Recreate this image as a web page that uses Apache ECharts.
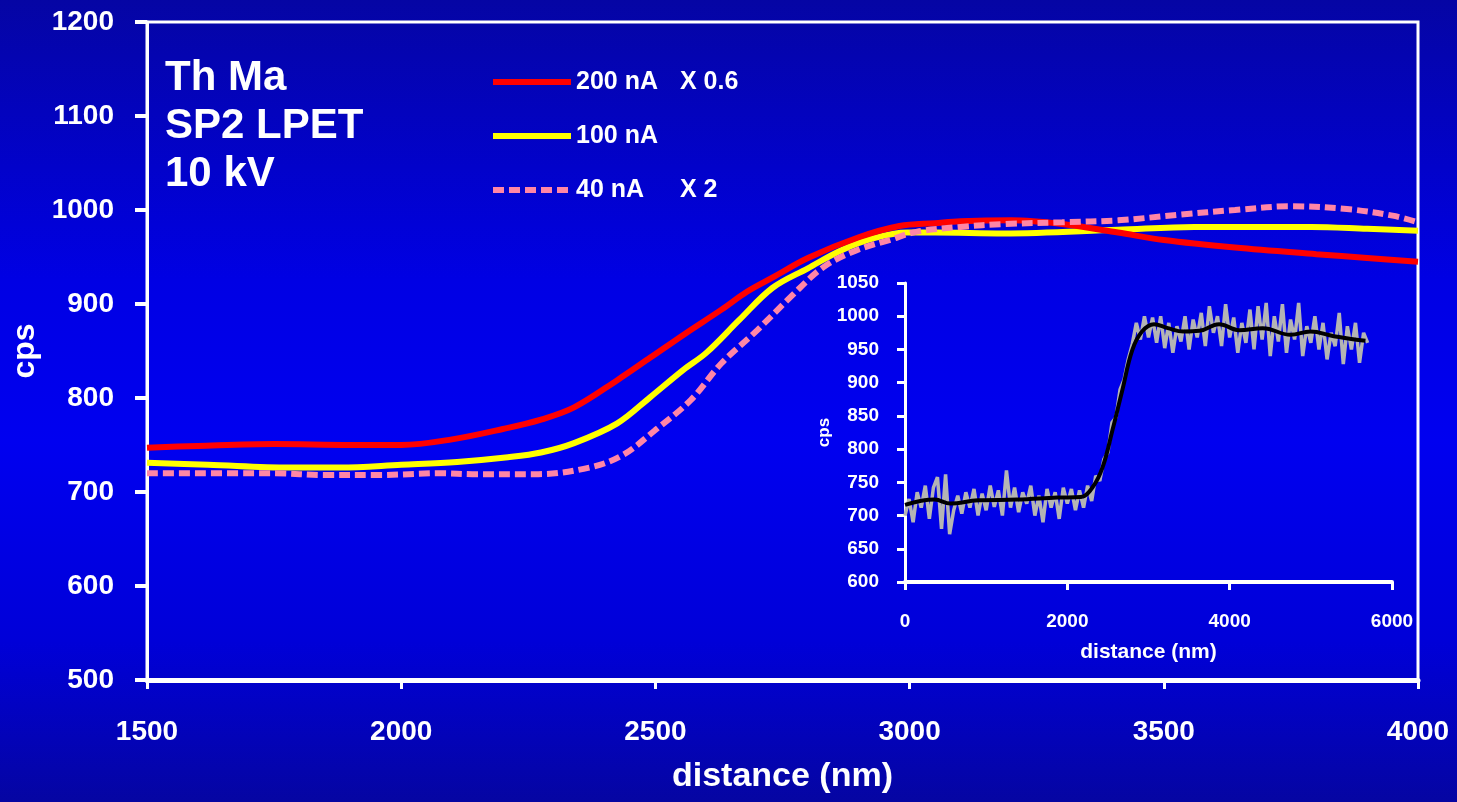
<!DOCTYPE html>
<html>
<head>
<meta charset="utf-8">
<script src="https://cdn.jsdelivr.net/npm/echarts@6/dist/echarts.min.js"></script>
<style>
html,body{margin:0;padding:0;width:1457px;height:802px;overflow:hidden;}
#chart{width:1457px;height:802px;}
</style>
</head>
<body>
<div id="chart"></div>
<script>
// ---- main chart data (distance nm, cps) ----
const redX = [1500,1600,1750,1900,2000,2100,2200,2275,2340,2425,2490,2560,2630,2680,2730,2800,2900,2980,3050,3100,3200,3300,3410,3500,3640,3800,3900,4000];
const redY = [747,749,751,750,750,756,767,777,790,819,843,869,894,913,928,949,971,983,986,988,989,985,976,968,960,953,949,945];

const yellowX = [1500,1620,1780,1880,2000,2110,2210,2275,2340,2425,2490,2555,2600,2665,2730,2800,2865,2930,2995,3050,3185,3410,3560,3790,3900,4000];
const yellowY = [731,729,726,726,729,732,737,742,752,773,801,830,848,883,917,938,957,970,976,976,975,979,982,982,980,978];

const pinkX = [1500,1750,1850,1950,2080,2140,2270,2370,2435,2500,2570,2630,2700,2765,2830,2895,2960,3015,3100,3185,3300,3410,3530,3640,3750,3860,3950,4000];
const pinkY = [720,720,718,718,720,719,719,726,739,766,798,837,872,907,939,957,968,977,982,985,987,989,995,1000,1004,1001,994,987];

const seriesNames = ['200 nA', '100 nA', '40 nA'];
const seriesFactors = ['X 0.6', '', 'X 2'];

const mainXTicks = {min: 1500, max: 4000, interval: 500};
const mainYTicks = {min: 500, max: 1200, interval: 100};

// ---- inset data ----
const insetRawStart = 0, insetRawStep = 50;
const insetRawY = [700,725,690,735,712,745,695,742,758,680,762,672,708,730,703,735,712,740,700,733,
  708,745,713,738,700,768,712,742,705,735,718,745,700,730,690,740,712,735,695,742,
  718,740,708,738,712,745,722,760,752,785,795,840,848,890,905,935,958,990,965,1000,
  968,998,960,1000,952,990,945,985,962,1000,950,995,968,1005,955,1015,975,1000,955,1018,
  968,998,945,990,960,1010,950,1015,965,1020,940,1000,962,1018,945,995,965,1020,940,985,
  960,1000,950,990,935,975,955,1005,928,985,950,990,930,975,960];

const insetSmoothX = [0,365,560,900,1387,1873,2167,2313,2435,2557,2678,2800,2920,3068,3238,3432,3627,3870,4116,4407,4750,4995,5283,5673];
const insetSmoothY = [716,724,718,723,724,727,728,743,773,829,889,949,977,988,982,977,978,988,979,982,972,977,970,963];

const insetXTicks = {min: 0, max: 6000, interval: 2000};
const insetYTicks = {min: 600, max: 1050, interval: 50};

const annotationLines = ['Th Ma', 'SP2 LPET', '10 kV'];

// ---- build ----
const FONT = "'Liberation Sans', Arial, sans-serif";
const plain = v => String(v);
const zip = (xs, ys) => xs.map((x, i) => [x, ys[i]]);
const insetRaw = insetRawY.map((y, i) => [insetRawStart + i * insetRawStep, y]);

const chart = echarts.init(document.getElementById('chart'), null, {renderer: 'canvas'});

const option = {
  backgroundColor: {
    type: 'linear', x: 0, y: 0, x2: 0, y2: 1,
    colorStops: [
      {offset: 0, color: '#0505a4'},
      {offset: 0.35, color: '#0000e4'},
      {offset: 0.55, color: '#0000f0'},
      {offset: 0.8, color: '#0000d8'},
      {offset: 1, color: '#0505a2'}
    ]
  },
  animation: false,
  textStyle: {fontFamily: FONT},
  grid: [
    {left: 147, right: 39, top: 22, bottom: 122, show: true, borderColor: '#ffffff', borderWidth: 3, backgroundColor: 'transparent'},
    {left: 905, right: 65, top: 283, bottom: 220}
  ],
  legend: {
    orient: 'vertical',
    left: 490,
    top: 67,
    padding: 0,
    itemWidth: 78,
    itemHeight: 14,
    itemGap: 24,
    data: seriesNames,
    itemStyle: {opacity: 0},
    lineStyle: {width: 6},
    textStyle: {color: '#ffffff', fontSize: 25, fontWeight: 'bold', fontFamily: FONT, lineHeight: 30}
  },
  xAxis: [
    {
      gridIndex: 0, type: 'value', min: mainXTicks.min, max: mainXTicks.max, interval: mainXTicks.interval,
      axisLine: {show: true, onZero: false, lineStyle: {color: '#ffffff', width: 5}},
      axisTick: {show: true, length: 9, lineStyle: {color: '#ffffff', width: 3}},
      axisLabel: {color: '#ffffff', fontSize: 28, fontWeight: 'bold', fontFamily: FONT, margin: 38, formatter: plain},
      splitLine: {show: false},
      name: 'distance (nm)', nameLocation: 'middle', nameGap: 80,
      nameTextStyle: {color: '#ffffff', fontSize: 34, fontWeight: 'bold', fontFamily: FONT}
    },
    {
      gridIndex: 1, type: 'value', min: insetXTicks.min, max: insetXTicks.max, interval: insetXTicks.interval,
      axisLine: {show: true, onZero: false, lineStyle: {color: '#ffffff', width: 4}},
      axisTick: {show: true, length: 8, lineStyle: {color: '#ffffff', width: 3}},
      axisLabel: {color: '#ffffff', fontSize: 19, fontWeight: 'bold', fontFamily: FONT, margin: 30, formatter: plain},
      splitLine: {show: false},
      name: 'distance (nm)', nameLocation: 'middle', nameGap: 60,
      nameTextStyle: {color: '#ffffff', fontSize: 21, fontWeight: 'bold', fontFamily: FONT}
    }
  ],
  yAxis: [
    {
      gridIndex: 0, type: 'value', min: mainYTicks.min, max: mainYTicks.max, interval: mainYTicks.interval,
      axisLine: {show: true, onZero: false, lineStyle: {color: '#ffffff', width: 3}},
      axisTick: {show: true, length: 12, lineStyle: {color: '#ffffff', width: 4}},
      axisLabel: {color: '#ffffff', fontSize: 28, fontWeight: 'bold', fontFamily: FONT, margin: 33, formatter: plain},
      splitLine: {show: false},
      name: 'cps', nameLocation: 'middle', nameGap: 100, nameRotate: 90,
      nameTextStyle: {color: '#ffffff', fontSize: 32, fontWeight: 'bold', fontFamily: FONT}
    },
    {
      gridIndex: 1, type: 'value', min: insetYTicks.min, max: insetYTicks.max, interval: insetYTicks.interval,
      axisLine: {show: true, onZero: false, lineStyle: {color: '#ffffff', width: 3}},
      axisTick: {show: true, length: 8, lineStyle: {color: '#ffffff', width: 3}},
      axisLabel: {color: '#ffffff', fontSize: 19, fontWeight: 'bold', fontFamily: FONT, margin: 26, formatter: plain},
      splitLine: {show: false},
      name: 'cps', nameLocation: 'middle', nameGap: 72, nameRotate: 90,
      nameTextStyle: {color: '#ffffff', fontSize: 17, fontWeight: 'bold', fontFamily: FONT}
    }
  ],
  series: [
    {
      name: seriesNames[0], type: 'line', xAxisIndex: 0, yAxisIndex: 0, data: zip(redX, redY),
      smooth: 0.35, symbol: 'none', lineStyle: {color: '#ff0000', width: 6}, itemStyle: {color: '#ff0000'}, z: 3
    },
    {
      name: seriesNames[1], type: 'line', xAxisIndex: 0, yAxisIndex: 0, data: zip(yellowX, yellowY),
      smooth: 0.35, symbol: 'none', lineStyle: {color: '#ffff00', width: 6}, itemStyle: {color: '#ffff00'}, z: 2
    },
    {
      name: seriesNames[2], type: 'line', xAxisIndex: 0, yAxisIndex: 0, data: zip(pinkX, pinkY),
      smooth: 0.35, symbol: 'none', lineStyle: {color: '#ff86a6', width: 6, type: [11, 5]}, itemStyle: {color: '#ff86a6'}, z: 4
    },
    {
      name: 'raw', type: 'line', xAxisIndex: 1, yAxisIndex: 1, data: insetRaw,
      symbol: 'none', lineStyle: {color: '#b4b4b4', width: 3.5}, z: 5
    },
    {
      name: 'smooth', type: 'line', xAxisIndex: 1, yAxisIndex: 1, data: zip(insetSmoothX, insetSmoothY),
      smooth: 0.4, symbol: 'none', lineStyle: {color: '#000000', width: 4}, z: 6
    }
  ],
  graphic: [
    {
      type: 'text', left: 165, top: 54, z: 10,
      style: {text: annotationLines.join('\n'), fill: '#ffffff', font: "bold 42px " + FONT, lineHeight: 48}
    },
    {
      type: 'text', left: 680, top: 67, z: 10,
      style: {text: seriesFactors[0], fill: '#ffffff', font: "bold 25px " + FONT, lineHeight: 30}
    },
    {
      type: 'text', left: 680, top: 175, z: 10,
      style: {text: seriesFactors[2], fill: '#ffffff', font: "bold 25px " + FONT, lineHeight: 30}
    }
  ]
};
chart.setOption(option);
</script>
</body>
</html>
